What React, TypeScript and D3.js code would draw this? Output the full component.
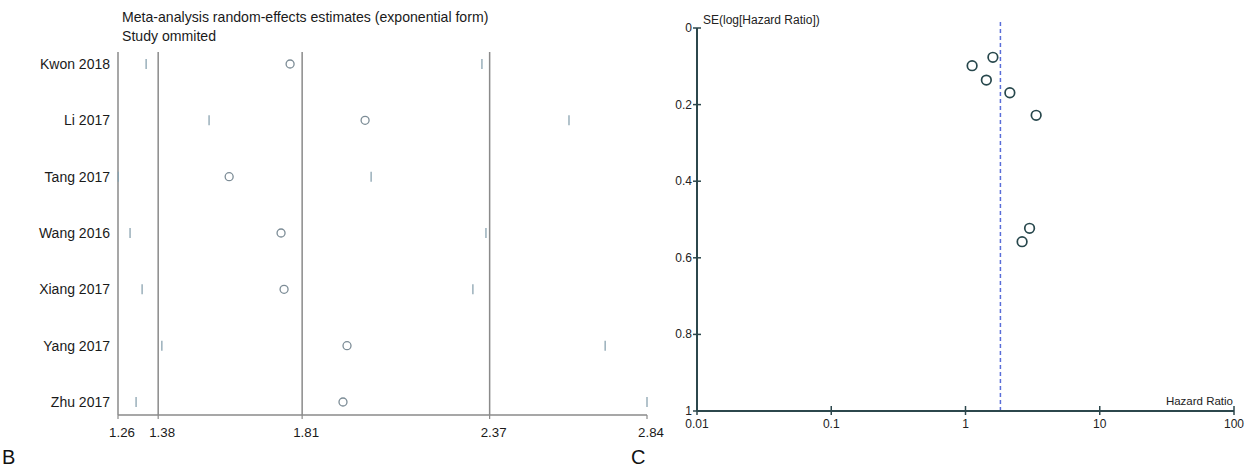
import React from "react";
import * as d3 from "d3";

const studies = ["Kwon 2018", "Li 2017", "Tang 2017", "Wang 2016", "Xiang 2017", "Yang 2017", "Zhu 2017"];
const estimates = [1.774, 1.998, 1.592, 1.747, 1.756, 1.944, 1.932];
const lowers = [1.344, 1.532, 1.261, 1.296, 1.332, 1.391, 1.314];
const uppers = [2.347, 2.607, 2.016, 2.359, 2.32, 2.715, 2.84];
const bTicks = [1.26, 1.38, 1.81, 2.37, 2.84];
const bRefLines = [1.38, 1.81, 2.37];

const funnelHR = [1.6, 1.12, 1.43, 2.14, 3.36, 3.0, 2.64];
const funnelSE = [0.0765, 0.0984, 0.136, 0.169, 0.228, 0.523, 0.558];
const pooledHR = 1.82;
const cXTicks = [0.01, 0.1, 1, 10, 100];
const cYTicks = [0, 0.2, 0.4, 0.6, 0.8, 1];

const FONT = "'Liberation Sans', Arial, sans-serif";

export default function App() {
  // Panel B
  const bx = d3.scaleLinear().domain([1.26, 2.84]).range([118, 647]);
  const by = d3.scalePoint<string>().domain(studies).range([64, 402]);
  const bTop = 52;
  const bBottom = 415;
  const gray = "#8a8a8a";
  const ciColor = "#8aa3b0";
  const circColor = "#7c8c96";

  // Panel C
  const cx = d3.scaleLog().domain([0.01, 100]).range([697, 1234]);
  const cy = d3.scaleLinear().domain([0, 1]).range([28, 411]);
  const axC = "#2c474c";

  return (
    <svg width={1245} height={468} style={{ position: "absolute", left: 0, top: 0, background: "#fff" }} fontFamily={FONT}>
      <rect x={0} y={0} width={1245} height={468} fill="#fff" />
      {/* Panel B */}
      <text x={122} y={22} fontSize={14.1} fill="#1a1a1a">Meta-analysis random-effects estimates (exponential form)</text>
      <text x={122} y={41} fontSize={14.1} fill="#1a1a1a">Study ommited</text>
      <line x1={bx(1.26)} x2={bx(1.26)} y1={bTop} y2={bBottom} stroke={gray} strokeWidth={1.5} />
      {bRefLines.map((v) => (
        <line key={v} x1={bx(v)} x2={bx(v)} y1={bTop} y2={bBottom} stroke={gray} strokeWidth={1.5} />
      ))}
      <line x1={bx(1.26)} x2={bx(2.84)} y1={bBottom} y2={bBottom} stroke={gray} strokeWidth={1.5} />
      {bTicks.map((v) => (
        <g key={v}>
          <line x1={bx(v)} x2={bx(v)} y1={bBottom} y2={bBottom + 4} stroke={gray} strokeWidth={1.2} />
          <text x={bx(v) + 4} y={437} fontSize={13.3} textAnchor="middle" fill="#1a1a1a">{v.toFixed(2)}</text>
        </g>
      ))}
      {studies.map((s, i) => {
        const y = by(s)!;
        return (
          <g key={s}>
            <text x={110} y={y + 5} fontSize={14} textAnchor="end" fill="#1a1a1a">{s}</text>
            <line x1={bx(lowers[i])} x2={bx(lowers[i])} y1={y - 5} y2={y + 5} stroke={ciColor} strokeWidth={1.3} />
            <line x1={bx(uppers[i])} x2={bx(uppers[i])} y1={y - 5} y2={y + 5} stroke={ciColor} strokeWidth={1.3} />
            <circle cx={bx(estimates[i])} cy={y} r={4} fill="none" stroke={circColor} strokeWidth={1.3} />
          </g>
        );
      })}
      <text x={2} y={464} fontSize={20} fill="#111">B</text>

      {/* Panel C */}
      <line x1={cx(pooledHR)} x2={cx(pooledHR)} y1={22} y2={411} stroke="#5a6ed8" strokeWidth={1.5} strokeDasharray="4,3" />
      <line x1={697} x2={697} y1={cy(0)} y2={cy(1)} stroke={axC} strokeWidth={2} />
      <line x1={697} x2={1234} y1={cy(1)} y2={cy(1)} stroke={axC} strokeWidth={2} />
      {cYTicks.map((v) => (
        <g key={v}>
          <line x1={693} x2={701} y1={cy(v)} y2={cy(v)} stroke={axC} strokeWidth={1.5} />
          <text x={692} y={cy(v) + 4} fontSize={12} textAnchor="end" fill="#222">{String(v)}</text>
        </g>
      ))}
      {cXTicks.map((v) => (
        <g key={v}>
          <line x1={cx(v)} x2={cx(v)} y1={cy(1) - 5} y2={cy(1) + 4} stroke={axC} strokeWidth={1.5} />
          <text x={cx(v)} y={428} fontSize={12} textAnchor="middle" fill="#222">{String(v)}</text>
        </g>
      ))}
      <text x={703} y={24} fontSize={12} fill="#222">SE(log[Hazard Ratio])</text>
      <text x={1233} y={405} fontSize={11.5} textAnchor="end" fill="#222">Hazard Ratio</text>
      {funnelHR.map((hr, i) => (
        <circle key={i} cx={cx(hr)} cy={cy(funnelSE[i])} r={4.8} fill="none" stroke="#27474c" strokeWidth={1.7} />
      ))}
      <text x={631} y={464} fontSize={20} fill="#111">C</text>
    </svg>
  );
}
